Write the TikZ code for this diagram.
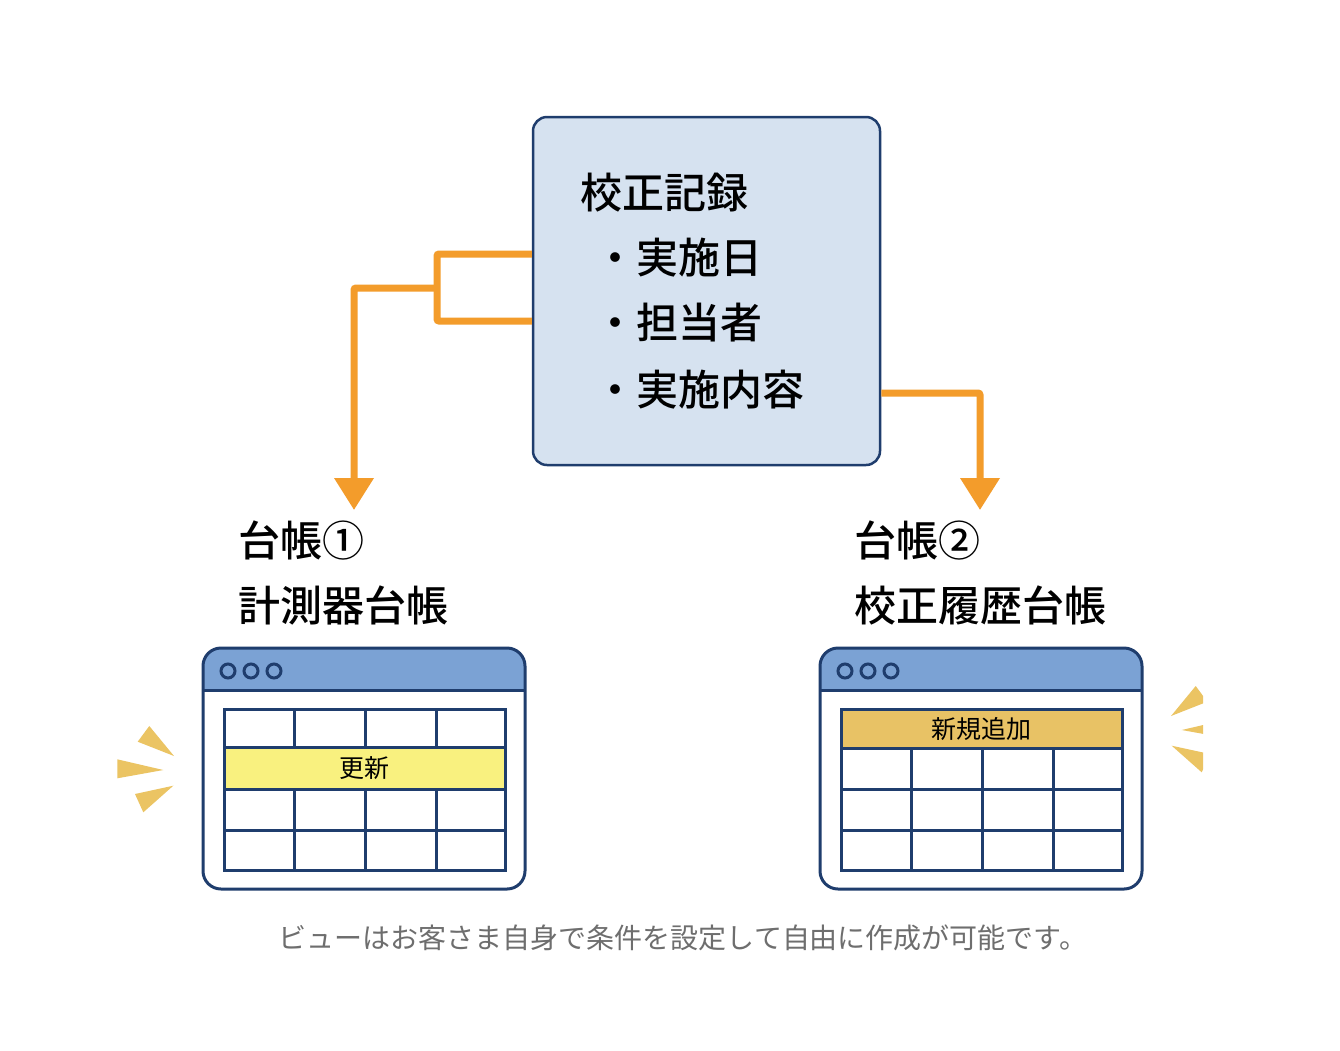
\documentclass[tikz,border=0pt]{standalone}
\usepackage{fontspec}
\setmainfont{Noto Sans CJK JP}[BoldFont={Noto Sans CJK JP Medium}]
\usetikzlibrary{arrows.meta,calc}
\definecolor{navy}{HTML}{1F3D6D}
\definecolor{boxfill}{HTML}{D6E2F0}
\definecolor{barblue}{HTML}{7BA2D4}
\definecolor{orangeline}{HTML}{F39C2B}
\definecolor{yellowrow}{HTML}{F9F17F}
\definecolor{goldrow}{HTML}{E8C265}
\definecolor{spark}{HTML}{EBC463}
\definecolor{graytext}{HTML}{6E6E6E}
\begin{document}
\begin{tikzpicture}[x=1pt,y=-1pt,
  recbox/.style={draw=navy, line width=2.5pt, fill=boxfill, rounded corners=14pt, minimum width=347pt, minimum height=348pt, inner sep=0pt},
  bigtext/.style={anchor=west, inner sep=0pt, font=\bfseries\fontsize{42}{42}\selectfont},
  conn/.style={draw=orangeline, line width=7pt},
  tip/.style={-{Triangle[width=38pt,length=32pt]}},
  winframe/.style={draw=navy, line width=3pt, rounded corners=18pt},
  gridline/.style={draw=navy, line width=3pt},
  dotc/.style={draw=navy, line width=3pt},
  celltext/.style={inner sep=0pt, font=\fontsize{25}{25}\selectfont},
  sparkle/.style={fill=spark}
]
\useasboundingbox (0,0) rectangle (1340,1050);
\fill[white] (0,0) rectangle (1340,1050);

% top box
\node[recbox] (rec) at (706.5,291) {};
\node[bigtext] (t0) at (580,193) {校正記録};
\node[bigtext] (t1) at (594,258) {・実施日};
\node[bigtext] (t2) at (594,323) {・担当者};
\node[bigtext] (t3) at (594,390) {・実施内容};

% connectors
\coordinate (jn) at (437,288);
\coordinate (tipL) at (354,510);
\coordinate (tipR) at (980,510);
\draw[conn, rounded corners=2pt] (rec.west |- 0,254) -- (437,254) -- (437,321) -- (rec.west |- 0,321);
\draw[conn, tip, rounded corners=2pt] (jn) -| (tipL);
\draw[conn, tip, rounded corners=2pt] (rec.east |- 0,393) -| (tipR);

% labels
\node[bigtext] (l1a) at (238,540) {台帳①};
\node[bigtext] (l1b) at (238,605) {計測器台帳};
\node[bigtext] (l2a) at (854,540) {台帳②};
\node[bigtext] (l2b) at (854,605) {校正履歴台帳};

% left window
\begin{scope}[shift={(203,648)}]
  \begin{scope}
    \clip[rounded corners=18pt] (0,0) rectangle (322,241);
    \fill[white] (0,0) rectangle (322,241);
    \fill[barblue] (0,0) rectangle (322,42);
  \end{scope}
  \draw[gridline] (0,42) -- (322,42);
  \draw[winframe] (0,0) rectangle (322,241);
  \foreach \cx in {25,48,71} \draw[dotc] (\cx,23) circle (7);
  \fill[yellowrow] (21,99) rectangle (302,141);
  \node[celltext] (upd) at (161.5,120) {更新};
  \foreach \yy in {99,141,182} \draw[gridline] (21,\yy) -- (302,\yy);
  \foreach \xx in {91,162,233} {
    \draw[gridline] (\xx,61) -- (\xx,99);
    \draw[gridline] (\xx,141) -- (\xx,222);
  }
  \draw[gridline] (21,61) rectangle (302,222);
\end{scope}

% right window
\begin{scope}[shift={(820,648)}]
  \begin{scope}
    \clip[rounded corners=18pt] (0,0) rectangle (322,241);
    \fill[white] (0,0) rectangle (322,241);
    \fill[barblue] (0,0) rectangle (322,42);
  \end{scope}
  \draw[gridline] (0,42) -- (322,42);
  \draw[winframe] (0,0) rectangle (322,241);
  \foreach \cx in {25,48,71} \draw[dotc] (\cx,23) circle (7);
  \fill[goldrow] (21,61) rectangle (302,100);
  \node[celltext] (add) at (161.5,80.5) {新規追加};
  \foreach \yy in {100,141,182} \draw[gridline] (21,\yy) -- (302,\yy);
  \foreach \xx in {91,162,233} \draw[gridline] (\xx,100) -- (\xx,222);
  \draw[gridline] (21,61) rectangle (302,222);
\end{scope}

% sparkles left
\fill[sparkle] (137.7,741.7) -- (149.3,726) -- (174,756) -- cycle;
\fill[sparkle] (117.3,759.3) -- (117.3,778.3) -- (163.3,770) -- cycle;
\fill[sparkle] (135,794) -- (143.3,812.3) -- (173.3,785.7) -- cycle;
% sparkles right (clipped)
\begin{scope}
  \clip (1100,600) rectangle (1203,850);
  \fill[sparkle] (1207.3,701.7) -- (1195.7,686) -- (1171,716) -- cycle;
  \fill[sparkle] (1227.7,719.3) -- (1227.7,738.3) -- (1181.7,730) -- cycle;
  \fill[sparkle] (1210,754) -- (1201.7,772.3) -- (1171.7,745.7) -- cycle;
\end{scope}

% caption
\node[inner sep=0pt, text=graytext, font=\fontsize{28}{28}\selectfont] (cap) at (683,938) {ビューはお客さま自身で条件を設定して自由に作成が可能です。};
\end{tikzpicture}
\end{document}
